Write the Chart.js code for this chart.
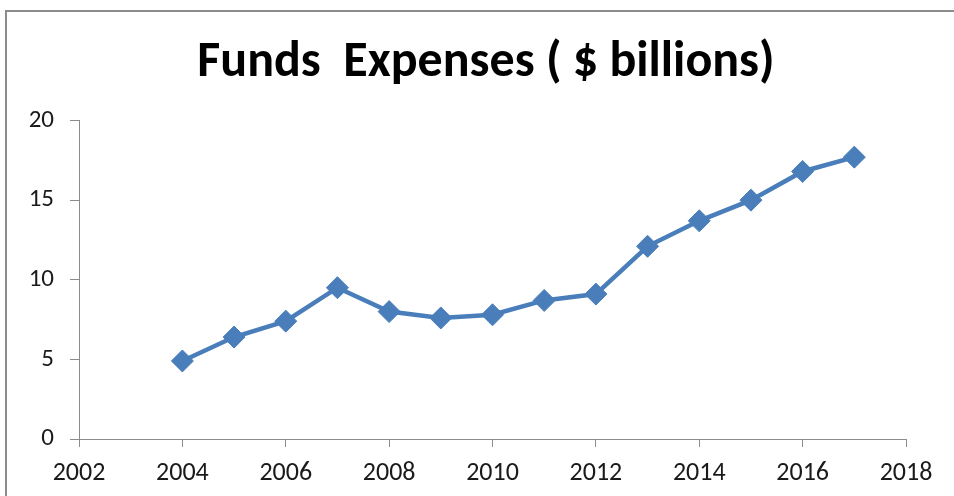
<!DOCTYPE html>
<html>
<head>
<meta charset="utf-8">
<script src="https://cdn.jsdelivr.net/npm/chart.js@4.4.1/dist/chart.umd.min.js"></script>
<style>
    body { margin: 0; background: #fff; overflow: hidden; width: 954px; height: 496px; position: relative; }
    #moldura { position: absolute; left: 5px; top: 10px; width: 2000px; height: 2000px; border: 2px solid #8c8c8c; }
    #caixa { position: absolute; left: 0; top: 0; width: 972px; height: 496px; }
</style>
</head>
<body>
<div id="moldura"></div>
<div id="caixa"><canvas id="meuGrafico"></canvas></div>
<script>
const anos = [2004, 2005, 2006, 2007, 2008, 2009, 2010, 2011, 2012, 2013, 2014, 2015, 2016, 2017];
const despesas = [4.9, 6.4, 7.4, 9.5, 8.0, 7.6, 7.8, 8.7, 9.1, 12.1, 13.7, 15.0, 16.8, 17.7];
const titulo = 'Funds  Expenses ( $ billions)';

const fonte = "Carlito, 'Liberation Sans Narrow', Lato, sans-serif";
const azul = '#4a7ebb';
const cinza = '#8c8c8c';

// o título do original fica centrado em 486px, não no meio da área do gráfico
const centrarTitulo = {
    id: 'centrarTitulo',
    afterLayout(chart) {
        const t = chart.titleBlock;
        if (t) {
            t.left = 66;
            t.right = 906;
            t.width = 840;
        }
    }
};

const ctx = document.getElementById('meuGrafico').getContext('2d');

new Chart(ctx, {
    type: 'line',
    data: {
        datasets: [{
            label: titulo,
            data: anos.map((a, i) => ({x: a, y: despesas[i]})),
            borderColor: azul,
            backgroundColor: azul,
            borderWidth: 4.5,
            pointStyle: 'rectRot',
            pointRadius: 11,
            pointBorderWidth: 1,
            pointBorderColor: azul,
            pointBackgroundColor: azul,
            tension: 0
        }]
    },
    options: {
        responsive: true,
        maintainAspectRatio: false,
        animation: false,
        layout: { padding: { left: 0, right: 66, top: 0, bottom: 0 } },
        plugins: {
            legend: { display: false },
            tooltip: { enabled: false },
            title: {
                display: true,
                text: titulo,
                color: '#000',
                font: { family: fonte, size: 50, weight: 'bold' },
                padding: { top: 33, bottom: 27.5 }
            }
        },
        scales: {
            x: {
                type: 'linear',
                min: 2002,
                max: 2018,
                afterFit: s => { s.height = 57; },
                ticks: { stepSize: 2, color: '#1a1a1a', font: { family: fonte, size: 26 }, padding: 11, callback: v => String(v) },
                grid: { display: true, drawOnChartArea: false, drawTicks: true, tickLength: 8, color: cinza },
                border: { display: true, color: cinza, width: 1 }
            },
            y: {
                min: 0,
                max: 20,
                afterFit: s => { s.width = 79; },
                ticks: { stepSize: 5, color: '#1a1a1a', font: { family: fonte, size: 25 }, padding: 16 },
                grid: { display: true, drawOnChartArea: false, drawTicks: true, tickLength: 9, color: cinza },
                border: { display: true, color: cinza, width: 1 }
            }
        }
    },
    plugins: [centrarTitulo]
});
</script>
</body>
</html>
